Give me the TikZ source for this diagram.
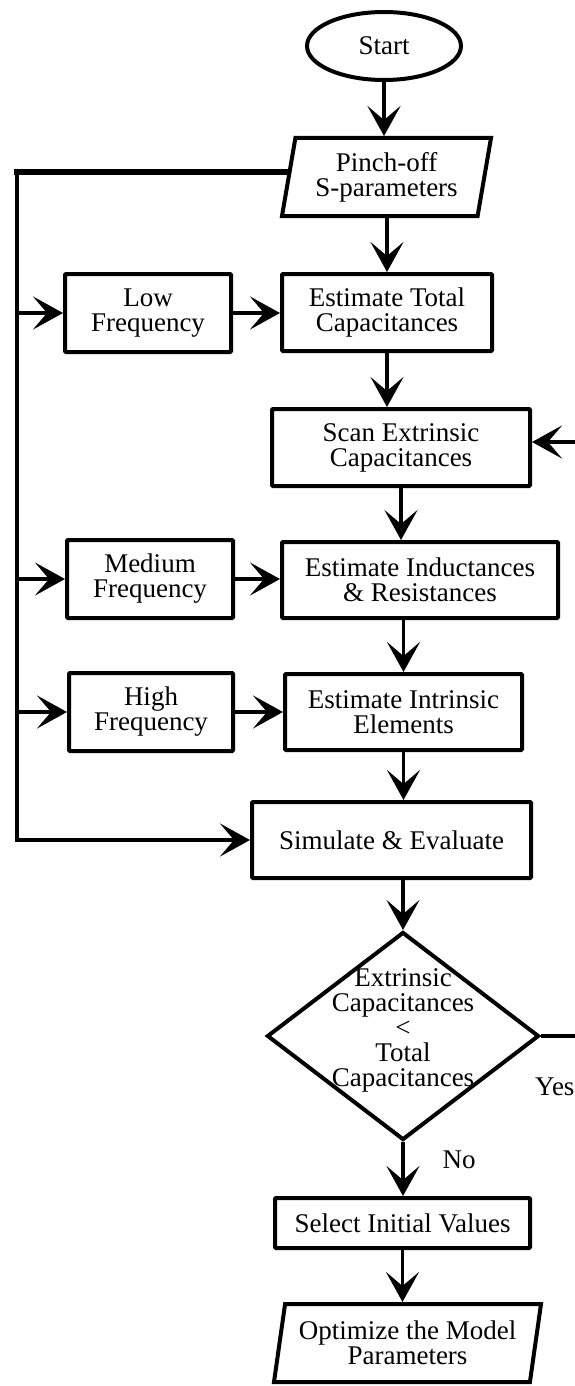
\documentclass[tikz,border=0pt]{standalone}
\usepackage{fontspec}
\setmainfont{Liberation Serif}
\usetikzlibrary{arrows.meta,shapes.geometric}

\begin{document}
\begin{tikzpicture}[x=1pt,y=-1pt,>={Stealth[length=30pt,width=33pt,inset=14pt]},
	every node/.style={font=\fontsize{27}{25}\selectfont,align=center},
	box/.style={draw,line width=4pt,rounded corners=1pt,inner sep=2pt},
	io/.style={draw,line width=4pt,trapezium,trapezium left angle=76,trapezium right angle=104,trapezium stretches body,inner sep=2pt},
	conn/.style={->,line width=3.5pt}]
		\fill[white] (0,0) rectangle (574,1386);
		\useasboundingbox (0,0) rectangle (574,1386);
		
		\node[draw,ellipse,line width=4pt,minimum width=154pt,minimum height=68pt] (start) at (384,46) {Start};
		\node[io,minimum width=209pt,minimum height=78pt] (pinch) at (386.5,177) {Pinch-off\\S-parameters};
		\node[box,minimum width=166pt,minimum height=78pt] (low) at (148,313) {Low\\Frequency};
		\node[box,minimum width=210pt,minimum height=77pt] (esttot) at (387,312.5) {Estimate Total\\Capacitances};
		\node[box,minimum width=258pt,minimum height=77pt] (scan) at (401,447.5) {Scan Extrinsic\\Capacitances};
		\node[box,minimum width=166pt,minimum height=78pt] (med) at (150,579) {Medium\\Frequency};
		\node[box,minimum width=276pt,minimum height=76pt] (estind) at (420,580) {Estimate Inductances\\\& Resistances};
		\node[box,minimum width=164pt,minimum height=78pt] (high) at (151,712) {High\\Frequency};
		\node[box,minimum width=237pt,minimum height=76pt] (estint) at (403.5,712) {Estimate Intrinsic\\Elements};
		\node[box,minimum width=279pt,minimum height=76pt] (sim) at (391.5,840) {Simulate \& Evaluate};
		\node[draw,diamond,line width=4pt,minimum width=272pt,minimum height=208pt,inner sep=0pt] (dia) at (403,1036) {};
		\node[inner sep=0pt] (diatext) at ([yshift=6pt]dia.center) {Extrinsic\\Capacitances\\<\\Total\\Capacitances};
		\node[box,minimum width=255pt,minimum height=50pt] (select) at (402.5,1223) {Select Initial Values};
		\node[io,trapezium left angle=77,trapezium right angle=103,minimum width=267pt,minimum height=78pt] (opt) at (407.5,1343) {Optimize the Model\\Parameters};
		\node[anchor=west,inner sep=0pt] (yes) at (535,1087) {Yes};
		\node[inner sep=0pt] (no) at (459,1160) {No};
		
		\coordinate (railtop) at (17,172);
		\coordinate (loopin) at (580,442);
		\coordinate (loopout) at (580,1036);
		
		% main flow
		\draw[conn] (start.south) -- (start.south |- pinch.north);
		\draw[conn] (esttot.north |- pinch.south) -- (esttot.north);
		\draw[conn] (esttot.south) -- (esttot.south |- scan.north);
		\draw[conn] (scan.south) -- (scan.south |- estind.north);
		\draw[conn] (estint.north |- estind.south) -- (estint.north);
		\draw[conn] (estint.south) -- (estint.south |- sim.north);
		\draw[conn] (dia.north |- sim.south) -- (dia.north);
		\draw[conn] (dia.south) -- (dia.south |- select.north);
		\draw[conn] (select.south) -- (select.south |- opt.north);
		
		% side branch
		\draw[line width=6pt,line cap=rect] (railtop) -- (railtop -| pinch.west);
		\draw[conn,line width=4pt] (railtop) |- (sim.west);
		\foreach \n/\m in {low/esttot,med/estind,high/estint}{
			\draw[conn] (railtop |- \n.west) -- (\n.west);
			\draw[conn] (\n.east) -- (\n.east -| \m.west);
		}
		
		% loop back
		\draw[conn] (loopin) -- (loopin -| scan.east);
		\draw[line width=4pt] (dia.east) -- (loopout);
		
\end{tikzpicture}
\end{document}
